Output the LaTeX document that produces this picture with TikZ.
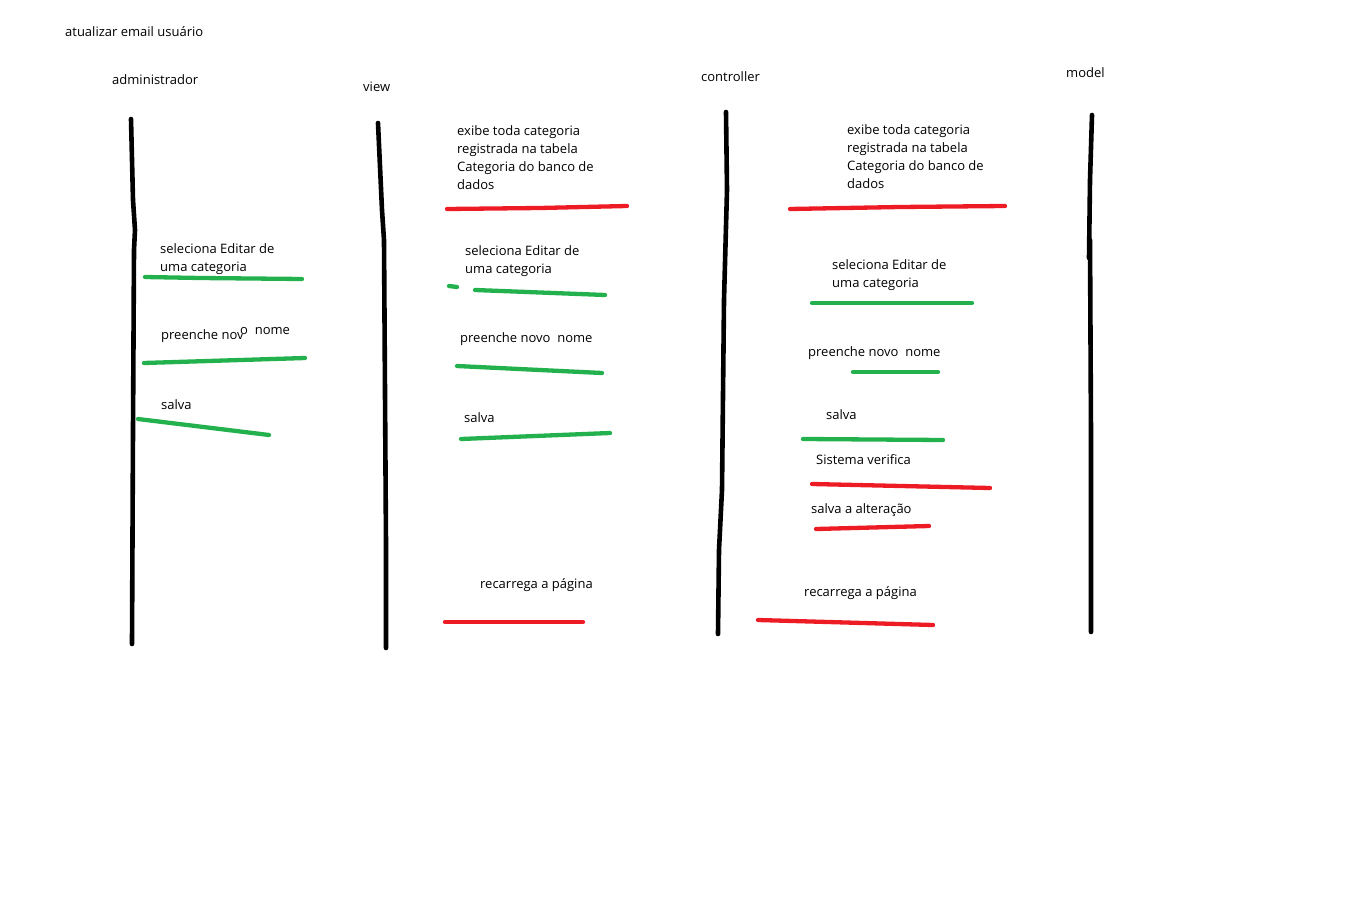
\documentclass[tikz,border=0pt]{standalone}
\usepackage{fontspec}
\setmainfont{Open Sans}
\definecolor{pgreen}{HTML}{22B14C}
\definecolor{pred}{HTML}{ED1C24}
\tikzset{
  lbl/.style={anchor=base west, inner sep=0pt, font=\fontsize{13}{18}\selectfont, text=black},
  mlbl/.style={anchor=north west, inner sep=0pt, align=left, font=\fontsize{13}{18}\selectfont, text=black},
  life/.style={line width=4.6pt, black, line cap=round, line join=round},
  gline/.style={line width=4.3pt, pgreen, line cap=round},
  rline/.style={line width=4.3pt, pred, line cap=round}
}
\begin{document}
\begin{tikzpicture}[x=1pt,y=-1pt]
\useasboundingbox (0,0) rectangle (1360,920);
% title and headers
\node[lbl] (title) at (65,37) {atualizar email usuário};
\node[lbl] (hadm) at (112,85) {administrador};
\node[lbl] (hview) at (363,92) {view};
\node[lbl] (hctrl) at (701,82) {controller};
\node[lbl] (hmodel) at (1066,78) {model};
% lifelines
\draw[life] (131,119) -- (133,200) -- (135,230) -- (134,250) -- (133,430) -- (132,644);
\draw[life] (378,123) -- (382,210) -- (384,240) -- (386,545) -- (386,648);
\draw[life] (726,112) -- (727,190) -- (724,300) -- (722,490) -- (719,550) -- (718,634);
\draw[life] (1092,115) -- (1090,180) -- (1089,258) -- (1090,240) -- (1091,435) -- (1091,632);
% administrador column
\node[mlbl] (a1) at (160,240.4) {\strut seleciona Editar de\\uma categoria};
\draw[gline] (145,277) -- (200,278) -- (302,279);
\node[lbl] (a2) at (161,339) {preenche nov};
\node[lbl, fill=white, inner xsep=1pt, inner ysep=0pt] (a2b) at (239,334) {o\ \ nome};
\draw[gline] (144,363) -- (305,358);
\node[lbl] (a3) at (161,409) {salva};
\draw[gline] (138,419) -- (269,435);
% view column
\node[mlbl] (v1) at (457,122.9) {\strut exibe toda categoria\\registrada na tabela\\Categoria do banco de\\dados};
\draw[rline] (447,209) -- (540,208) -- (627,206);
\node[mlbl] (v2) at (465,242.9) {\strut seleciona Editar de\\uma categoria};
\draw[gline] (449,286) -- (457,287);
\draw[gline] (475,290) -- (605,295);
\node[lbl] (v3) at (460,342) {preenche novo\ \ nome};
\draw[gline] (457,366) -- (602,373);
\node[lbl] (v4) at (464,422) {salva};
\draw[gline] (461,439) -- (610,433);
\node[lbl] (v5) at (480,588) {recarrega a página};
\draw[rline] (445,622) -- (583,622);
% controller column
\node[mlbl] (c1) at (847,121.9) {\strut exibe toda categoria\\registrada na tabela\\Categoria do banco de\\dados};
\draw[rline] (790,209) -- (900,207) -- (1005,206);
\node[mlbl] (c2) at (832,256.9) {\strut seleciona Editar de\\uma categoria};
\draw[gline] (812,303) -- (972,303);
\node[lbl] (c3) at (808,356) {preenche novo\ \ nome};
\draw[gline] (853,372) -- (938,372);
\node[lbl] (c4) at (826,419) {salva};
\draw[gline] (803,439) -- (943,440);
\node[lbl] (c5) at (816,464) {Sistema verifica};
\draw[rline] (812,484) -- (990,488);
\node[lbl] (c6) at (811,513) {salva a alteração};
\draw[rline] (816,529) -- (929,526);
\node[lbl] (c7) at (804,596) {recarrega a página};
\draw[rline] (758,620) -- (933,625);
\end{tikzpicture}
\end{document}
